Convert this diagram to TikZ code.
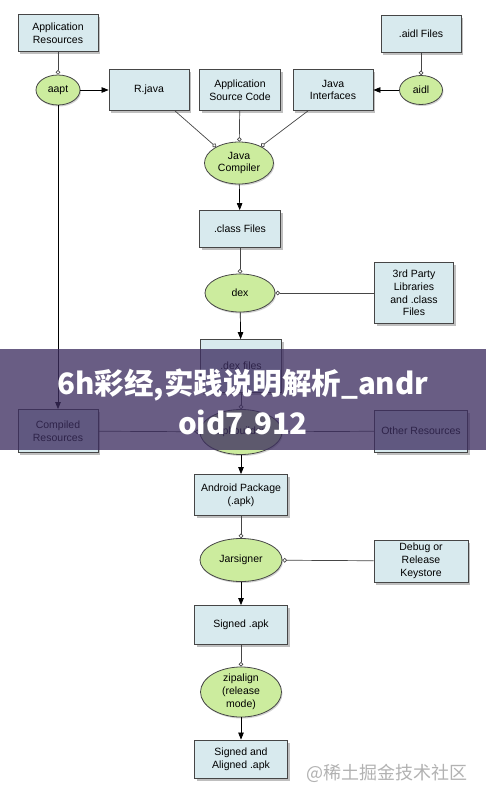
\documentclass[tikz,border=0pt]{standalone}
\usepackage{fontspec}
\setmainfont{Liberation Sans}
\newfontfamily\cjk{Noto Sans CJK SC}
\usetikzlibrary{arrows.meta,shapes.geometric,shadows}

\definecolor{boxblue}{RGB}{216,234,238}
\definecolor{toolgreen}{RGB}{204,236,158}
\definecolor{edgegray}{RGB}{70,70,70}
\definecolor{bannerpurple}{RGB}{60,45,95}

\tikzset{
  file/.style={draw=edgegray, fill=boxblue, line width=0.8pt, align=center,
    inner sep=1pt, font=\fontsize{10.5}{12.8}\selectfont,
    drop shadow={shadow xshift=2pt, shadow yshift=-2.5pt, opacity=0.5}},
  tool/.style={ellipse, draw=edgegray, fill=toolgreen, line width=0.8pt,
    align=center, inner sep=0pt, font=\fontsize{10.5}{12.8}\selectfont,
    drop shadow={shadow xshift=1pt, shadow yshift=-1.5pt, opacity=0.35}},
  feed/.style={draw=edgegray, line width=0.7pt, -{Circle[open,length=4.5pt]}},
  flow/.style={draw=black, line width=0.7pt, -{Triangle[length=7pt,width=5.5pt]}},
}

\begin{document}
\begin{tikzpicture}[x=1pt,y=-1pt]
  \useasboundingbox[fill=white] (0,0) rectangle (486,800);

  % top row
  \node[file,minimum width=80pt,minimum height=37pt] (appres) at (58,33)
    {Application\\Resources};
  \node[file,minimum width=80pt,minimum height=37pt] (aidlfiles) at (421,34)
    {.aidl Files};
  \node[tool,minimum width=44pt,minimum height=30pt] (aapt) at (58,90) {aapt};
  \node[file,minimum width=80pt,minimum height=41pt] (rjava) at (149,90) {R.java};
  \node[file,minimum width=81pt,minimum height=41pt] (appsrc) at (240,90)
    {Application\\Source Code};
  \node[file,minimum width=80pt,minimum height=41pt] (javaif) at (333,90)
    {Java\\Interfaces};
  \node[tool,minimum width=43pt,minimum height=29pt] (aidl) at (421,90) {aidl};

  % compile and dex
  \node[tool,minimum width=69pt,minimum height=42pt] (javac) at (239,163)
    {Java\\Compiler};
  \node[file,minimum width=81pt,minimum height=37pt] (classfiles) at (240,229)
    {.class Files};
  \node[tool,minimum width=70pt,minimum height=38pt] (dex) at (240,293) {dex};
  \node[file,minimum width=79pt,minimum height=61pt] (libs) at (414,293)
    {3rd Party\\Libraries\\and .class\\Files};
  \node[file,minimum width=81pt,minimum height=53pt] (dexfiles) at (241,366)
    {.dex files};

  % packaging
  \node[file,minimum width=80pt,minimum height=43pt] (compres) at (58,431)
    {Compiled\\Resources};
  \node[tool,minimum width=82pt,minimum height=45pt] (apkbuilder) at (241,432)
    {apkbuilder};
  \node[file,minimum width=93pt,minimum height=42pt] (otherres) at (421,431)
    {Other Resources};
  \node[file,minimum width=93pt,minimum height=41pt] (apk) at (241,495)
    {Android Package\\(.apk)};

  % signing and aligning
  \node[tool,minimum width=82pt,minimum height=43pt] (jarsigner) at (241,560)
    {Jarsigner};
  \node[file,minimum width=94pt,minimum height=42pt] (keystore) at (421,561)
    {Debug or\\Release\\Keystore};
  \node[file,minimum width=93pt,minimum height=39pt] (signed) at (241,625)
    {Signed .apk};
  \node[tool,minimum width=81pt,minimum height=42pt] (zipalign) at (241,692)
    {zipalign\\(release\\mode)};
  \node[file,minimum width=93pt,minimum height=38pt] (aligned) at (241,759)
    {Signed and\\Aligned .apk};

  \draw[feed] (appres) -- (aapt);
  \draw[feed] (aidlfiles) -- (aidl);
  \draw[flow] (aapt) -- (rjava);
  \draw[flow] (aidl) -- (javaif);
  \draw[flow] (aapt) -- (compres);
  \draw[feed] ([xshift=26pt]rjava.south) -- (javac.145);
  \draw[feed] (appsrc) -- (javac);
  \draw[feed] ([xshift=-25pt]javaif.south) -- (javac.37);
  \draw[flow] (javac) -- (classfiles);
  \draw[feed] (classfiles) -- (dex);
  \draw[feed] (libs) -- (dex);
  \draw[flow] (dex) -- (dexfiles);
  \draw[feed] (dexfiles) -- (apkbuilder);
  \draw[feed] (compres) -- (apkbuilder);
  \draw[feed] (otherres) -- (apkbuilder);
  \draw[flow] (apkbuilder) -- (apk);
  \draw[feed] (apk) -- (jarsigner);
  \draw[feed] (keystore) -- (jarsigner);
  \draw[flow] (jarsigner) -- (signed);
  \draw[feed] (signed) -- (zipalign);
  \draw[flow] (zipalign) -- (aligned);

  % overlay banner and watermark
  \fill[bannerpurple,opacity=0.77] (0,349) rectangle (486,450);
  \node[text=white,align=center,font=\cjk\bfseries\fontsize{29.5}{40}\selectfont]
    (banner) at (243,402) {6h彩经,实践说明解析\_andr\\oid7.912};
  \node[text=black!30,font=\cjk\fontsize{18}{20}\selectfont]
    (watermark) at (387,773) {@稀土掘金技术社区};
\end{tikzpicture}
\end{document}
